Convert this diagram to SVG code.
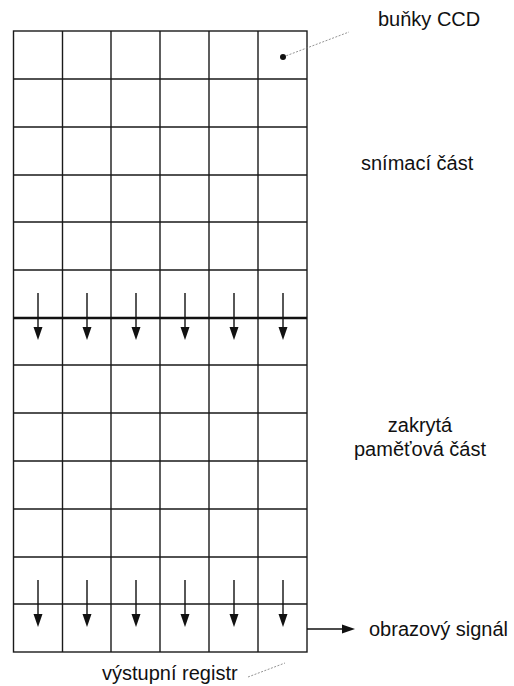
<svg xmlns="http://www.w3.org/2000/svg" width="514" height="686" viewBox="0 0 514 686">
<style>
.g{stroke:#1a1a1a;stroke-width:1.4;fill:none}
.thick{stroke:#111;stroke-width:2.4}
.sh{stroke:#111;stroke-width:1.4}
.hd{fill:#111}
.t{font-family:"Liberation Sans",Arial,sans-serif;font-size:20px;fill:#111}
.lead{stroke:#777;stroke-width:0.8;stroke-dasharray:2 1.5;fill:none}
</style>
<defs>
<path id="ah" d="M0,0 L-4.5,-13 L4.5,-13 Z"/>
</defs>
<g id="grid">
<rect class="g" x="13.5" y="31" width="293.5" height="621"/>
<path class="g" d="M62.5,31V652M111,31V652M160,31V652M209,31V652M258,31V652"/>
<path class="g" d="M13.5,79H307M13.5,127H307M13.5,175H307M13.5,222H307M13.5,270H307M13.5,365H307M13.5,413H307M13.5,461H307M13.5,509H307M13.5,557H307M13.5,604H307"/>
<path class="g thick" d="M13.5,318H307"/>
</g>
<g id="connectors">
<path class="sh" d="M38,293V330M87,293V330M136,293V330M185,293V330M234,293V330M283,293V330"/>
<use href="#ah" class="hd" x="38" y="340"/>
<use href="#ah" class="hd" x="87" y="340"/>
<use href="#ah" class="hd" x="136" y="340"/>
<use href="#ah" class="hd" x="185" y="340"/>
<use href="#ah" class="hd" x="234" y="340"/>
<use href="#ah" class="hd" x="283" y="340"/>
<path class="sh" d="M38,580V617M87,580V617M136,580V617M185,580V617M234,580V617M283,580V617"/>
<use href="#ah" class="hd" x="38" y="627"/>
<use href="#ah" class="hd" x="87" y="627"/>
<use href="#ah" class="hd" x="136" y="627"/>
<use href="#ah" class="hd" x="185" y="627"/>
<use href="#ah" class="hd" x="234" y="627"/>
<use href="#ah" class="hd" x="283" y="627"/>
<path class="sh" d="M307,629H344"/>
<path class="hd" d="M355,629 L342,624.5 L342,633.5 Z"/>
<path class="lead" d="M283,57 L349,32"/>
<path class="lead" d="M248,677 L285,663"/>
</g>
<g id="ccd-cell">
<circle cx="283" cy="57" r="3" fill="#111"/>
</g>
<g id="labels">
<text class="t" x="378" y="26">buňky CCD</text>
<text class="t" x="361" y="170">snímací část</text>
<text class="t" x="420" y="432" text-anchor="middle">zakrytá</text>
<text class="t" x="420" y="456" text-anchor="middle">paměťová část</text>
<text class="t" x="369" y="636">obrazový signál</text>
<text class="t" x="102" y="680">výstupní registr</text>
</g>
</svg>
